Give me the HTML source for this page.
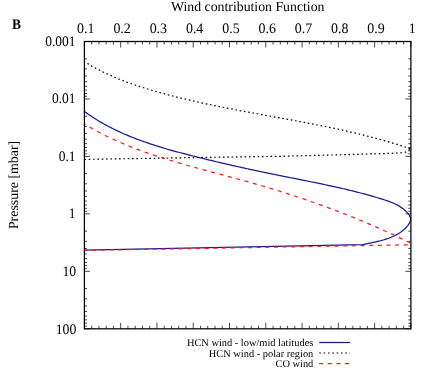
<!DOCTYPE html>
<html><head><meta charset="utf-8"><style>
html,body{margin:0;padding:0;background:#fff;}
svg{display:block;font-family:"Liberation Serif",serif;text-rendering:geometricPrecision;}
</style></head><body><div style="will-change:transform;width:436px;height:374px">
<svg width="436" height="374" viewBox="0 0 436 374">
<rect width="436" height="374" fill="#fff"/>
<g font-size="14.5" fill="#000">
<text x="247.75" y="11.4" text-anchor="middle" font-size="13.8">Wind contribution Function</text>
<text transform="translate(85.80 33.1) scale(0.960 1)" text-anchor="middle">0.1</text><text transform="translate(122.08 33.1) scale(0.960 1)" text-anchor="middle">0.2</text><text transform="translate(158.36 33.1) scale(0.960 1)" text-anchor="middle">0.3</text><text transform="translate(194.63 33.1) scale(0.960 1)" text-anchor="middle">0.4</text><text transform="translate(230.91 33.1) scale(0.960 1)" text-anchor="middle">0.5</text><text transform="translate(267.19 33.1) scale(0.960 1)" text-anchor="middle">0.6</text><text transform="translate(303.47 33.1) scale(0.960 1)" text-anchor="middle">0.7</text><text transform="translate(339.74 33.1) scale(0.960 1)" text-anchor="middle">0.8</text><text transform="translate(376.02 33.1) scale(0.960 1)" text-anchor="middle">0.9</text><text transform="translate(412.30 33.1) scale(0.960 1)" text-anchor="middle">1</text>
<text transform="translate(75.60 45.90) scale(0.930 1)" text-anchor="end">0.001</text><text transform="translate(75.60 103.36) scale(0.930 1)" text-anchor="end">0.01</text><text transform="translate(75.60 160.82) scale(0.930 1)" text-anchor="end">0.1</text><text transform="translate(75.60 218.28) scale(0.930 1)" text-anchor="end">1</text><text transform="translate(76.20 275.94) scale(0.950 1)" text-anchor="end">10</text><text transform="translate(76.35 333.60) scale(0.950 1)" text-anchor="end">100</text>
<text transform="translate(17.5 184.95) rotate(-90)" text-anchor="middle" font-size="13.9">Pressure [mbar]</text>
<text transform="translate(12.1 28.9) scale(0.93 1)" font-weight="bold" font-size="14.5">B</text>
</g>
<g font-size="10.4" fill="#000" text-anchor="end">
<text x="313.3" y="346.1">HCN wind - low/mid latitudes</text>
<text x="313.3" y="356.7">HCN wind - polar region</text>
<text x="313.3" y="367.3">CO wind</text>
</g>
<path d="M84.40 41.50 v6.0 M84.40 328.80 v-6.0 M91.66 41.50 v3.0 M91.66 328.80 v-3.0 M98.91 41.50 v3.0 M98.91 328.80 v-3.0 M106.17 41.50 v3.0 M106.17 328.80 v-3.0 M113.42 41.50 v3.0 M113.42 328.80 v-3.0 M120.68 41.50 v6.0 M120.68 328.80 v-6.0 M127.93 41.50 v3.0 M127.93 328.80 v-3.0 M135.19 41.50 v3.0 M135.19 328.80 v-3.0 M142.44 41.50 v3.0 M142.44 328.80 v-3.0 M149.70 41.50 v3.0 M149.70 328.80 v-3.0 M156.96 41.50 v6.0 M156.96 328.80 v-6.0 M164.21 41.50 v3.0 M164.21 328.80 v-3.0 M171.47 41.50 v3.0 M171.47 328.80 v-3.0 M178.72 41.50 v3.0 M178.72 328.80 v-3.0 M185.98 41.50 v3.0 M185.98 328.80 v-3.0 M193.23 41.50 v6.0 M193.23 328.80 v-6.0 M200.49 41.50 v3.0 M200.49 328.80 v-3.0 M207.74 41.50 v3.0 M207.74 328.80 v-3.0 M215.00 41.50 v3.0 M215.00 328.80 v-3.0 M222.26 41.50 v3.0 M222.26 328.80 v-3.0 M229.51 41.50 v6.0 M229.51 328.80 v-6.0 M236.77 41.50 v3.0 M236.77 328.80 v-3.0 M244.02 41.50 v3.0 M244.02 328.80 v-3.0 M251.28 41.50 v3.0 M251.28 328.80 v-3.0 M258.53 41.50 v3.0 M258.53 328.80 v-3.0 M265.79 41.50 v6.0 M265.79 328.80 v-6.0 M273.04 41.50 v3.0 M273.04 328.80 v-3.0 M280.30 41.50 v3.0 M280.30 328.80 v-3.0 M287.56 41.50 v3.0 M287.56 328.80 v-3.0 M294.81 41.50 v3.0 M294.81 328.80 v-3.0 M302.07 41.50 v6.0 M302.07 328.80 v-6.0 M309.32 41.50 v3.0 M309.32 328.80 v-3.0 M316.58 41.50 v3.0 M316.58 328.80 v-3.0 M323.83 41.50 v3.0 M323.83 328.80 v-3.0 M331.09 41.50 v3.0 M331.09 328.80 v-3.0 M338.34 41.50 v6.0 M338.34 328.80 v-6.0 M345.60 41.50 v3.0 M345.60 328.80 v-3.0 M352.86 41.50 v3.0 M352.86 328.80 v-3.0 M360.11 41.50 v3.0 M360.11 328.80 v-3.0 M367.37 41.50 v3.0 M367.37 328.80 v-3.0 M374.62 41.50 v6.0 M374.62 328.80 v-6.0 M381.88 41.50 v3.0 M381.88 328.80 v-3.0 M389.13 41.50 v3.0 M389.13 328.80 v-3.0 M396.39 41.50 v3.0 M396.39 328.80 v-3.0 M403.64 41.50 v3.0 M403.64 328.80 v-3.0 M410.90 41.50 v6.0 M410.90 328.80 v-6.0 M84.40 41.50 h5.5 M410.90 41.50 h-5.5 M84.40 58.80 h2.6 M410.90 58.80 h-2.6 M84.40 68.92 h2.6 M410.90 68.92 h-2.6 M84.40 76.09 h2.6 M410.90 76.09 h-2.6 M84.40 81.66 h2.6 M410.90 81.66 h-2.6 M84.40 86.21 h2.6 M410.90 86.21 h-2.6 M84.40 90.06 h2.6 M410.90 90.06 h-2.6 M84.40 93.39 h2.6 M410.90 93.39 h-2.6 M84.40 96.33 h2.6 M410.90 96.33 h-2.6 M84.40 98.96 h5.5 M410.90 98.96 h-5.5 M84.40 116.26 h2.6 M410.90 116.26 h-2.6 M84.40 126.38 h2.6 M410.90 126.38 h-2.6 M84.40 133.55 h2.6 M410.90 133.55 h-2.6 M84.40 139.12 h2.6 M410.90 139.12 h-2.6 M84.40 143.67 h2.6 M410.90 143.67 h-2.6 M84.40 147.52 h2.6 M410.90 147.52 h-2.6 M84.40 150.85 h2.6 M410.90 150.85 h-2.6 M84.40 153.79 h2.6 M410.90 153.79 h-2.6 M84.40 156.42 h5.5 M410.90 156.42 h-5.5 M84.40 173.72 h2.6 M410.90 173.72 h-2.6 M84.40 183.84 h2.6 M410.90 183.84 h-2.6 M84.40 191.01 h2.6 M410.90 191.01 h-2.6 M84.40 196.58 h2.6 M410.90 196.58 h-2.6 M84.40 201.13 h2.6 M410.90 201.13 h-2.6 M84.40 204.98 h2.6 M410.90 204.98 h-2.6 M84.40 208.31 h2.6 M410.90 208.31 h-2.6 M84.40 211.25 h2.6 M410.90 211.25 h-2.6 M84.40 213.88 h5.5 M410.90 213.88 h-5.5 M84.40 231.18 h2.6 M410.90 231.18 h-2.6 M84.40 241.30 h2.6 M410.90 241.30 h-2.6 M84.40 248.47 h2.6 M410.90 248.47 h-2.6 M84.40 254.04 h2.6 M410.90 254.04 h-2.6 M84.40 258.59 h2.6 M410.90 258.59 h-2.6 M84.40 262.44 h2.6 M410.90 262.44 h-2.6 M84.40 265.77 h2.6 M410.90 265.77 h-2.6 M84.40 268.71 h2.6 M410.90 268.71 h-2.6 M84.40 271.34 h5.5 M410.90 271.34 h-5.5 M84.40 288.64 h2.6 M410.90 288.64 h-2.6 M84.40 298.76 h2.6 M410.90 298.76 h-2.6 M84.40 305.93 h2.6 M410.90 305.93 h-2.6 M84.40 311.50 h2.6 M410.90 311.50 h-2.6 M84.40 316.05 h2.6 M410.90 316.05 h-2.6 M84.40 319.90 h2.6 M410.90 319.90 h-2.6 M84.40 323.23 h2.6 M410.90 323.23 h-2.6 M84.40 326.17 h2.6 M410.90 326.17 h-2.6 M84.40 328.80 h5.5 M410.90 328.80 h-5.5" stroke="#000" stroke-width="0.72" fill="none"/>
<g fill="none" stroke-width="1.25" stroke-linejoin="round">
<path d="M84.03 111.20 L85.55 112.30 L87.07 113.38 L88.60 114.44 L90.14 115.49 L91.68 116.52 L93.24 117.54 L94.81 118.54 L96.38 119.52 L97.96 120.48 L99.55 121.43 L101.14 122.37 L102.74 123.29 L104.36 124.19 L105.97 125.08 L107.60 125.96 L109.23 126.82 L110.87 127.66 L112.52 128.50 L114.17 129.31 L115.83 130.12 L117.49 130.91 L119.16 131.69 L120.84 132.46 L122.52 133.21 L124.21 133.96 L125.91 134.69 L127.61 135.41 L129.31 136.11 L131.02 136.81 L132.74 137.49 L134.46 138.17 L136.18 138.83 L137.91 139.49 L139.65 140.13 L141.38 140.77 L143.13 141.39 L144.87 142.01 L146.62 142.61 L148.38 143.21 L150.14 143.80 L151.90 144.38 L153.66 144.95 L155.43 145.52 L157.20 146.08 L158.98 146.63 L160.75 147.17 L162.53 147.70 L164.32 148.23 L166.10 148.76 L167.89 149.28 L169.68 149.79 L171.47 150.29 L173.26 150.79 L175.06 151.29 L176.85 151.78 L178.65 152.26 L180.45 152.74 L182.25 153.22 L184.05 153.70 L185.85 154.16 L187.65 154.63 L189.46 155.09 L191.26 155.55 L193.06 156.01 L194.87 156.46 L196.67 156.92 L198.48 157.37 L200.28 157.82 L202.09 158.26 L203.89 158.70 L205.69 159.15 L207.50 159.59 L209.30 160.02 L211.11 160.46 L212.91 160.89 L214.72 161.32 L216.52 161.75 L218.33 162.18 L220.13 162.60 L221.94 163.02 L223.75 163.44 L225.55 163.86 L227.36 164.28 L229.16 164.70 L230.97 165.11 L232.78 165.52 L234.59 165.93 L236.39 166.34 L238.20 166.74 L240.01 167.14 L241.82 167.55 L243.63 167.95 L245.43 168.34 L247.24 168.74 L249.05 169.13 L250.86 169.53 L252.67 169.92 L254.48 170.31 L256.29 170.69 L258.11 171.08 L259.92 171.46 L261.73 171.85 L263.54 172.23 L265.35 172.60 L267.17 172.98 L268.98 173.36 L270.80 173.73 L272.61 174.10 L274.42 174.48 L276.24 174.84 L278.06 175.21 L279.87 175.58 L281.69 175.94 L283.51 176.31 L285.32 176.67 L287.14 177.03 L288.96 177.39 L290.78 177.76 L292.60 178.12 L294.42 178.48 L296.24 178.84 L298.06 179.20 L299.88 179.56 L301.70 179.92 L303.51 180.28 L305.33 180.65 L307.15 181.01 L308.97 181.38 L310.79 181.74 L312.61 182.11 L314.43 182.48 L316.25 182.85 L318.07 183.23 L319.88 183.60 L321.70 183.98 L323.52 184.36 L325.33 184.74 L327.15 185.13 L328.97 185.52 L330.78 185.91 L332.59 186.31 L334.41 186.71 L336.22 187.11 L338.03 187.52 L339.84 187.93 L341.66 188.34 L343.47 188.76 L345.27 189.19 L347.08 189.61 L348.89 190.05 L350.70 190.49 L352.50 190.93 L354.31 191.38 L356.11 191.83 L357.91 192.29 L359.71 192.76 L361.51 193.23 L363.31 193.71 L365.11 194.19 L366.90 194.68 L368.70 195.18 L370.49 195.68 L372.28 196.19 L374.07 196.71 L375.86 197.24 L377.65 197.77 L379.43 198.31 L381.22 198.86 L383.00 199.42 L384.78 199.98 L386.55 200.57 L388.31 201.18 L390.06 201.81 L391.79 202.49 L393.50 203.20 L395.18 203.97 L396.84 204.79 L398.46 205.67 L400.05 206.62 L401.60 207.65 L403.10 208.75 L404.56 209.94 L405.96 211.23 L407.31 212.61 L408.53 214.08 L409.54 215.63 L410.26 217.22 L410.60 218.84 L410.49 220.49 L409.95 222.12 L409.08 223.73 L407.97 225.30 L406.70 226.79 L405.35 228.20 L403.94 229.52 L402.49 230.75 L400.99 231.90 L399.45 232.97 L397.87 233.96 L396.25 234.89 L394.60 235.75 L392.92 236.55 L391.21 237.29 L389.47 237.97 L387.72 238.61 L385.94 239.20 L384.15 239.75 L382.34 240.27 L380.53 240.75 L378.70 241.21 L376.88 241.63 L375.05 242.04 L373.22 242.44 L371.40 242.82 L369.59 243.19 L367.78 243.56 L365.99 243.93 L364.22 244.31 L362.47 244.70 L84.4 250.2" stroke="#1a1a94"/>
<path d="M84.20 61.44 L86.15 62.66 L88.11 63.86 L90.08 65.03 L92.06 66.17 L94.05 67.29 L96.06 68.39 L98.07 69.45 L100.09 70.50 L102.12 71.52 L104.17 72.52 L106.22 73.50 L108.28 74.46 L110.34 75.40 L112.42 76.31 L114.50 77.21 L116.60 78.08 L118.69 78.94 L120.80 79.78 L122.91 80.61 L125.03 81.41 L127.16 82.20 L129.29 82.98 L131.43 83.74 L133.57 84.48 L135.72 85.21 L137.87 85.93 L140.03 86.63 L142.20 87.32 L144.36 88.01 L146.53 88.67 L148.71 89.33 L150.88 89.98 L153.07 90.62 L155.25 91.25 L157.43 91.87 L159.62 92.49 L161.81 93.09 L164.01 93.69 L166.20 94.28 L168.40 94.87 L170.60 95.44 L172.80 96.01 L175.00 96.58 L177.21 97.13 L179.41 97.68 L181.62 98.22 L183.83 98.76 L186.05 99.29 L188.26 99.81 L190.48 100.33 L192.69 100.84 L194.91 101.35 L197.13 101.85 L199.36 102.34 L201.58 102.83 L203.80 103.32 L206.03 103.80 L208.25 104.27 L210.48 104.74 L212.71 105.21 L214.94 105.67 L217.17 106.13 L219.40 106.58 L221.64 107.03 L223.87 107.48 L226.10 107.92 L228.34 108.36 L230.57 108.80 L232.81 109.23 L235.04 109.66 L237.28 110.09 L239.52 110.51 L241.75 110.93 L243.99 111.35 L246.23 111.77 L248.47 112.19 L250.71 112.60 L252.95 113.01 L255.18 113.43 L257.42 113.84 L259.66 114.24 L261.90 114.65 L264.14 115.06 L266.38 115.47 L268.62 115.87 L270.86 116.28 L273.10 116.68 L275.34 117.09 L277.58 117.49 L279.81 117.90 L282.05 118.31 L284.29 118.72 L286.53 119.12 L288.76 119.53 L291.00 119.94 L293.24 120.36 L295.47 120.77 L297.71 121.19 L299.95 121.60 L302.18 122.02 L304.41 122.45 L306.65 122.87 L308.88 123.30 L311.11 123.73 L313.34 124.16 L315.57 124.60 L317.80 125.03 L320.03 125.48 L322.26 125.92 L324.49 126.37 L326.71 126.83 L328.94 127.29 L331.16 127.75 L333.38 128.21 L335.61 128.69 L337.83 129.16 L340.05 129.64 L342.26 130.13 L344.48 130.62 L346.70 131.12 L348.91 131.62 L351.13 132.13 L353.34 132.64 L355.55 133.16 L357.76 133.69 L359.96 134.22 L362.17 134.76 L364.38 135.31 L366.58 135.86 L368.78 136.42 L370.98 136.99 L373.18 137.57 L375.37 138.15 L377.57 138.74 L379.76 139.34 L381.95 139.95 L384.14 140.56 L386.33 141.19 L388.52 141.82 L390.70 142.46 L392.88 143.11 L395.06 143.77 L397.24 144.44 L399.41 145.12 L401.59 145.81 L403.76 146.51 L405.92 147.21 L408.09 147.93 L410.26 148.66" stroke="#000" stroke-width="1.2" stroke-dasharray="1.6 2.73" stroke-dashoffset="0.6"/>
<path d="M84.40 159.40 L140.00 158.50 L198.00 157.50 L255.00 156.70 L280.00 156.30 L351.70 154.50 L367.60 154.00 L390.10 153.40 L404.50 152.60 L410.00 149.30" stroke="#000" stroke-width="1.2" stroke-dasharray="1.6 2.73"/>
<path d="M84.04 123.77 L86.07 125.00 L88.11 126.20 L90.15 127.39 L92.21 128.55 L94.27 129.70 L96.33 130.82 L98.41 131.93 L100.49 133.02 L102.58 134.09 L104.67 135.15 L106.77 136.19 L108.88 137.21 L110.99 138.21 L113.11 139.20 L115.24 140.17 L117.37 141.12 L119.51 142.06 L121.65 142.99 L123.80 143.90 L125.95 144.80 L128.11 145.68 L130.28 146.55 L132.45 147.41 L134.62 148.25 L136.80 149.08 L138.99 149.90 L141.18 150.71 L143.37 151.50 L145.57 152.29 L147.77 153.06 L149.97 153.82 L152.18 154.58 L154.40 155.32 L156.61 156.05 L158.84 156.78 L161.06 157.49 L163.29 158.20 L165.52 158.90 L167.75 159.59 L169.99 160.27 L172.23 160.95 L174.47 161.62 L176.71 162.28 L178.96 162.94 L181.21 163.59 L183.46 164.24 L185.71 164.88 L187.97 165.51 L190.22 166.15 L192.48 166.77 L194.74 167.40 L197.00 168.02 L199.27 168.63 L201.53 169.25 L203.79 169.86 L206.06 170.47 L208.33 171.08 L210.59 171.68 L212.86 172.29 L215.13 172.89 L217.40 173.50 L219.66 174.10 L221.93 174.71 L224.20 175.31 L226.47 175.92 L228.73 176.53 L231.00 177.14 L233.27 177.75 L235.53 178.36 L237.79 178.98 L240.06 179.60 L242.32 180.22 L244.58 180.84 L246.84 181.47 L249.10 182.11 L251.35 182.75 L253.61 183.39 L255.86 184.04 L258.11 184.69 L260.36 185.34 L262.61 186.00 L264.85 186.67 L267.10 187.34 L269.34 188.01 L271.58 188.69 L273.82 189.38 L276.06 190.06 L278.30 190.76 L280.53 191.45 L282.77 192.16 L285.00 192.86 L287.23 193.58 L289.45 194.29 L291.68 195.02 L293.90 195.74 L296.12 196.48 L298.35 197.21 L300.56 197.95 L302.78 198.70 L304.99 199.45 L307.21 200.21 L309.42 200.97 L311.63 201.74 L313.83 202.52 L316.04 203.29 L318.24 204.08 L320.44 204.87 L322.64 205.66 L324.84 206.46 L327.04 207.27 L329.23 208.08 L331.42 208.90 L333.61 209.72 L335.80 210.55 L337.98 211.38 L340.17 212.22 L342.35 213.07 L344.53 213.92 L346.70 214.77 L348.88 215.63 L351.05 216.50 L353.22 217.38 L355.39 218.26 L357.55 219.14 L359.72 220.04 L361.88 220.93 L364.04 221.84 L366.20 222.75 L368.35 223.66 L370.50 224.59 L372.65 225.52 L374.80 226.45 L376.95 227.39 L379.09 228.34 L381.23 229.29 L383.37 230.25 L385.51 231.22 L387.64 232.19 L389.78 233.17 L391.91 234.16 L394.03 235.15 L396.16 236.15 L398.28 237.16 L400.40 238.17 L402.52 239.19 L404.63 240.21 L406.74 241.25 L408.85 242.29 L410.96 243.33 L409.8 244.8 L84.5 250.4" stroke="#ff1a1a" stroke-dasharray="4.0 4.66" stroke-dashoffset="2.2"/>
<path d="M319.2 342.5 H350" stroke="#1a1a94"/>
<path d="M319.3 353.0 H350" stroke="#000" stroke-width="1.2" stroke-dasharray="1.6 2.73"/>
<path d="M319.1 363.5 H350" stroke="#ff1a1a" stroke-dasharray="4.0 4.66"/>
</g>
<rect x="84.4" y="41.5" width="326.5" height="287.3" fill="none" stroke="#000" stroke-width="1.25"/>
</svg></div>
</body></html>
